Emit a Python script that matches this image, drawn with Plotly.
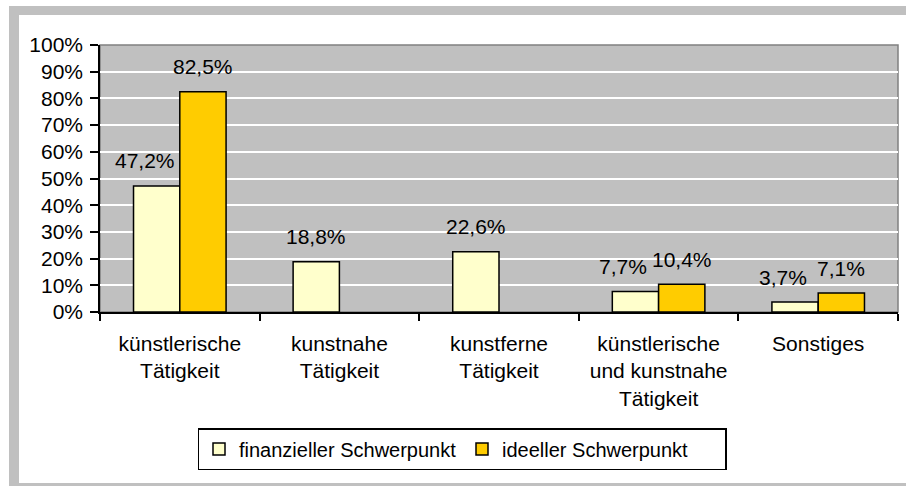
import plotly.graph_objects as go

categories = [
    "künstlerische<br>Tätigkeit",
    "kunstnahe<br>Tätigkeit",
    "kunstferne<br>Tätigkeit",
    "künstlerische<br>und kunstnahe<br>Tätigkeit",
    "Sonstiges",
]
finanziell = [47.2, 18.8, 22.6, 7.7, 3.7]
ideell = [82.5, None, None, 10.4, 7.1]
series_names = ["finanzieller Schwerpunkt", "ideeller Schwerpunkt"]
y_ticks = [0, 10, 20, 30, 40, 50, 60, 70, 80, 90, 100]
y_tick_labels = ["0%", "10%", "20%", "30%", "40%", "50%", "60%", "70%", "80%", "90%", "100%"]

W, H = 906, 486
ML, MT = 100, 45
PW, PH = 798, 267
MR, MB = W - ML - PW, H - MT - PH
FONT = "Liberation Sans, Arial, sans-serif"
FS = 21
BARGAP = 0.42


def px_x(px):  # pixel -> paper
    return (px - ML) / PW


def px_y(py):
    return (MT + PH - py) / PH


fig = go.Figure()
colors = ["#FFFFCC", "#FFCC00"]
for name, vals, col in zip(series_names, [finanziell, ideell], colors):
    fig.add_trace(go.Bar(
        x=categories, y=vals, name=name,
        marker=dict(color=col, line=dict(color="black", width=1.5)),
        hoverinfo="skip",
    ))

# value labels
cat_px = PW / len(categories)
bar_px = cat_px * (1 - BARGAP) / 2
for si, vals in enumerate([finanziell, ideell]):
    shift = (si - 0.5) * bar_px
    for ci, (c, v) in enumerate(zip(categories, vals)):
        if v is None:
            continue
        nudge = 0
        if si == 0 and ideell[ci] is not None:
            nudge = -12  # labels of left bar pushed left to avoid overlap
        fig.add_annotation(
            x=c, y=v, xref="x", yref="y",
            text=f"{v:.1f}%".replace(".", ","),
            showarrow=False, xshift=shift + nudge, yshift=25,
            yanchor="middle", xanchor="center",
            font=dict(size=FS, color="black", family=FONT),
        )

shapes = [
    # outer gray frame
    dict(type="rect", xref="paper", yref="paper", layer="below",
         x0=px_x(9), x1=px_x(940), y0=px_y(520), y1=px_y(6),
         fillcolor="#C0C0C0", line=dict(width=0)),
    dict(type="rect", xref="paper", yref="paper", layer="below",
         x0=px_x(19), x1=px_x(940), y0=px_y(483), y1=px_y(15),
         fillcolor="white", line=dict(width=0)),
    # plot area
    dict(type="rect", xref="paper", yref="paper", layer="below",
         x0=0, x1=1, y0=0, y1=1,
         fillcolor="#C0C0C0", line=dict(color="#808080", width=1.5)),
]

fig.update_layout(
    width=W, height=H,
    margin=dict(l=ML, r=MR, t=MT, b=MB, pad=0, autoexpand=False),
    paper_bgcolor="white", plot_bgcolor="rgba(0,0,0,0)",
    barmode="group", bargap=BARGAP, bargroupgap=0,
    font=dict(family=FONT, size=FS, color="black"),
    shapes=shapes,
    showlegend=True,
    legend=dict(
        orientation="h", xref="container", yref="container",
        x=462 / W, y=1 - 449 / H,
        xanchor="center", yanchor="middle",
        bgcolor="white", bordercolor="black", borderwidth=1.5,
        font=dict(size=20, family=FONT, color="black"),
        itemwidth=30, entrywidth=218, traceorder="normal",
    ),
    xaxis=dict(
        type="category", showline=True, linecolor="black", linewidth=1.5,
        ticks="outside", ticklen=7, tickcolor="black", tickwidth=1.5,
        tickson="boundaries", showgrid=False, ticklabelstandoff=12,
        automargin=False,
        tickfont=dict(size=FS, family=FONT, color="black"),
    ),
    yaxis=dict(
        range=[0, 100], tickvals=y_ticks, ticktext=y_tick_labels,
        showline=True, linecolor="black", linewidth=1.5,
        ticks="outside", ticklen=8, tickcolor="black", tickwidth=1.5,
        showgrid=True, gridcolor="white", gridwidth=1.5,
        zeroline=False, ticklabelstandoff=3, automargin=False,
        tickfont=dict(size=FS, family=FONT, color="black"),
    ),
)

fig.write_html(
    "out.html",
    config={"displayModeBar": False},
    post_script="document.body.style.margin='0';document.body.style.overflow='hidden';",
)
